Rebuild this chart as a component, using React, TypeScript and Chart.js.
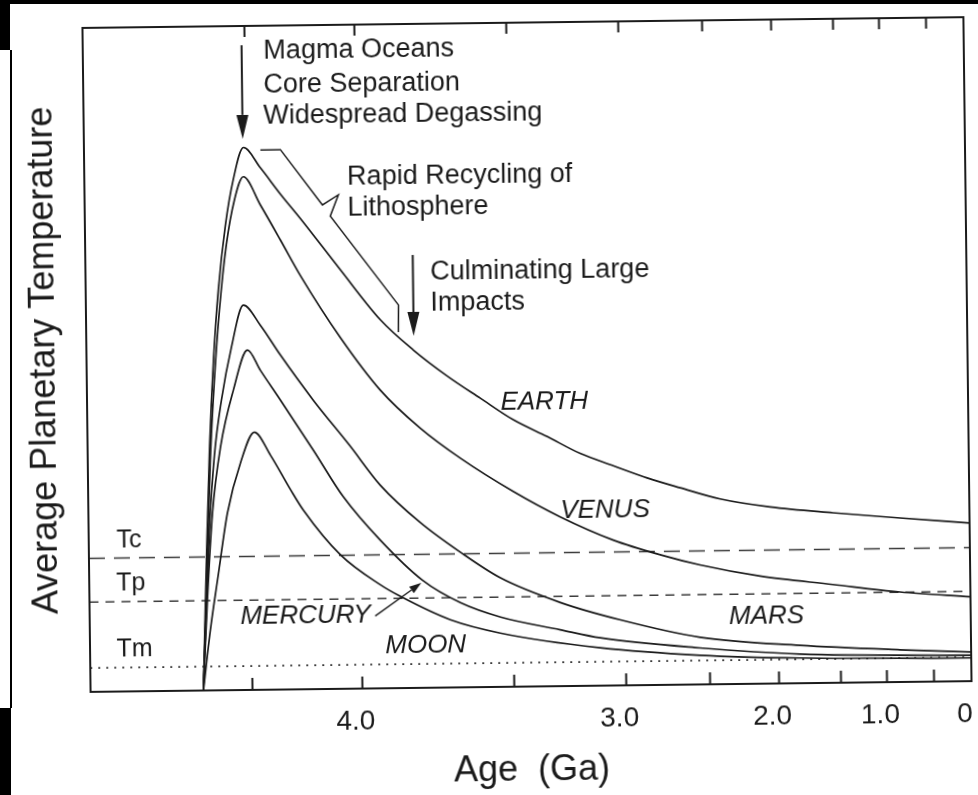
import React, { useEffect, useRef } from "react";
import { Chart, registerables } from "chart.js";

Chart.register(...registerables);

// ---- Age axis (Ga), schematic non-linear scale ----
const AGE_TICKS = [4.5, 4.0, 3.5, 3.0, 2.5, 2.0, 1.5, 1.0, 0.5, 0];
const TICK_LABELS = ["", "4.0", "", "3.0", "", "2.0", "", "1.0", "", "0"];
// anchor ages and their relative position (0-100) along the axis
const WARP_AGE = [5.236, 4.5, 4.0, 3.5, 3.0, 2.5, 2.0, 1.5, 1.0, 0.5, 0];
const WARP_POS = [0, 18.38, 30.86, 48.1, 60.81, 70.33, 78.16, 85.19, 90.41, 95.75, 100];

// ---- Curves: age (Ga) and relative average temperature ----
const EARTH_AGE = [4.723, 4.702, 4.682, 4.659, 4.633, 4.597, 4.559, 4.511, 4.435, 4.345, 4.256, 4.077, 3.926, 3.819, 3.708, 3.6, 3.49, 3.339, 3.193, 3.046, 2.86, 2.664, 2.411, 2.049, 1.548, 0.84, 0];
const EARTH_TEMP = [0, 19.6, 36.2, 49.7, 60.3, 70.1, 76.9, 81.7, 78.6, 74.6, 70.9, 63.1, 55.5, 50.9, 46.9, 43.5, 40.2, 37.6, 35.0, 33.1, 31.2, 29.65, 27.9, 26.6, 25.6, 24.7, 23.8];

const VENUS_AGE = [4.723, 4.698, 4.679, 4.656, 4.629, 4.594, 4.555, 4.513, 4.437, 4.348, 4.259, 4.081, 3.929, 3.799, 3.668, 3.494, 3.286, 3.05, 2.788, 2.551, 2.128, 1.555, 0.85, 0];
const VENUS_TEMP = [0, 19.6, 34.7, 46.7, 57.3, 67.1, 73.8, 77.3, 73.0, 67.7, 62.3, 52.9, 44.9, 39.1, 34.5, 29.4, 25.5, 21.9, 19.6, 18.0, 16.2, 14.8, 13.55, 12.7];

const MARS_AGE = [4.723, 4.687, 4.66, 4.625, 4.577, 4.52, 4.444, 4.355, 4.207, 4.046, 3.933, 3.803, 3.672, 3.541, 3.29, 3.026, 2.556, 1.827, 0.857, 0];
const MARS_TEMP = [0, 24.1, 35.4, 43.7, 51.6, 57.95, 54.9, 50.4, 43.5, 36.7, 30.6, 24.9, 20.35, 16.4, 12.6, 9.9, 7.1, 5.7, 4.85, 4.4];

const MERCURY_AGE = [4.723, 4.7, 4.672, 4.632, 4.57, 4.504, 4.446, 4.357, 4.21, 4.076, 3.935, 3.798, 3.674, 3.542, 3.292, 3.113, 2.557, 1.828, 0];
const MERCURY_TEMP = [0, 13.6, 26.7, 36.6, 45.2, 51.2, 48.1, 43.6, 36.0, 28.9, 22.3, 16.2, 12.75, 10.5, 8.5, 7.2, 5.5, 4.4, 3.9];

const MOON_AGE = [4.723, 4.688, 4.649, 4.604, 4.542, 4.477, 4.405, 4.316, 4.259, 4.093, 3.937, 3.871, 3.708, 3.544, 3.114, 2.557, 1.828, 0];
const MOON_TEMP = [0, 9.1, 17.4, 26.7, 34.2, 38.8, 35.3, 30.1, 27.0, 20.2, 15.6, 13.8, 10.2, 8.1, 5.7, 4.4, 3.8, 3.5];

// ---- Reference temperature levels ----
const REF_LABELS = ["Tc", "Tp", "Tm"];
const REF_TEMP = [20.1, 13.5, 3.6];
const REF_LABEL_AGE = [5.11, 5.113, 5.116];
const REF_LABEL_TEMP = [22.7, 16.3, 6.3];

// ---- Planet labels ----
const PLANET_LABELS = ["EARTH", "VENUS", "MARS", "MERCURY", "MOON"];
const PLANET_LABEL_AGE = [3.534, 3.285, 2.357, 4.551, 3.923];
const PLANET_LABEL_TEMP = [42.8, 26.4, 10.1, 11.0, 6.4];

// ---- Event notes ----
const NOTE_LINES = ["Magma Oceans", "Core Separation", "Widespread Degassing", "Rapid Recycling of", "Lithosphere", "Culminating Large", "Impacts"];
const NOTE_AGE = [4.415, 4.417, 4.419, 4.041, 4.042, 3.76, 3.761];
const NOTE_TEMP = [96.1, 91.1, 86.4, 77.1, 72.4, 62.6, 57.9];

// arrows: [ageFrom, tempFrom, ageTo, tempTo]
const ARROWS = [
  [4.514, 97.1, 4.514, 83.0],
  [3.817, 65.2, 3.817, 53.0],
];
const MERCURY_POINTER = [3.955, 10.9, 3.802, 15.8];
// bracket along Earth's decline ("Rapid Recycling of Lithosphere")
const BRACKET_AGE = [4.434, 4.343, 4.155, 4.082, 4.12, 3.866, 3.867];
const BRACKET_TEMP = [81.3, 81.3, 72.9, 74.4, 71.2, 57.7, 53.6];

function warp(age: number): number {
  const n = WARP_AGE.length;
  if (age >= WARP_AGE[0]) {
    const s = (WARP_POS[1] - WARP_POS[0]) / (WARP_AGE[0] - WARP_AGE[1]);
    return WARP_POS[0] - (age - WARP_AGE[0]) * s;
  }
  for (let i = 0; i < n - 1; i++) {
    const a0 = WARP_AGE[i];
    const a1 = WARP_AGE[i + 1];
    if (age <= a0 && age >= a1) {
      return WARP_POS[i] + ((a0 - age) / (a0 - a1)) * (WARP_POS[i + 1] - WARP_POS[i]);
    }
  }
  return WARP_POS[n - 1];
}

const pts = (ages: number[], temps: number[]) => ages.map((a, i) => ({ x: warp(a), y: temps[i] }));

const FONT = '"Liberation Sans", Arial, Helvetica, sans-serif';
const INK = "#1b1b1b";

function arrow(ctx: CanvasRenderingContext2D, x1: number, y1: number, x2: number, y2: number, len: number, half: number) {
  const ang = Math.atan2(y2 - y1, x2 - x1);
  const bx = x2 - len * Math.cos(ang);
  const by = y2 - len * Math.sin(ang);
  ctx.beginPath();
  ctx.moveTo(x1, y1);
  ctx.lineTo(bx, by);
  ctx.stroke();
  ctx.beginPath();
  ctx.moveTo(x2, y2);
  ctx.lineTo(bx + half * Math.sin(ang), by - half * Math.cos(ang));
  ctx.lineTo(bx - half * Math.sin(ang), by + half * Math.cos(ang));
  ctx.closePath();
  ctx.fill();
}

const decorPlugin = {
  id: "decor",
  afterDatasetsDraw(chart: any) {
    const { ctx, chartArea: ca, scales } = chart;
    const xs = scales.x;
    const ys = scales.y;
    const X = (age: number) => xs.getPixelForValue(warp(age));
    const Y = (t: number) => ys.getPixelForValue(t);
    ctx.save();
    ctx.strokeStyle = INK;
    ctx.fillStyle = INK;
    // frame
    ctx.lineWidth = 2;
    ctx.strokeRect(ca.left, ca.top, ca.right - ca.left, ca.bottom - ca.top);
    // inward tick marks, bottom and top
    xs.ticks.forEach((t: any) => {
      const px = xs.getPixelForValue(t.value);
      if (px >= ca.right - 2) return;
      ctx.beginPath();
      ctx.moveTo(px, ca.bottom);
      ctx.lineTo(px, ca.bottom - 12);
      ctx.moveTo(px, ca.top);
      ctx.lineTo(px, ca.top + 11);
      ctx.stroke();
    });
    // arrows
    ctx.lineWidth = 2;
    ARROWS.forEach((a) => arrow(ctx, X(a[0]), Y(a[1]), X(a[2]), Y(a[3]), 24, 6));
    ctx.lineWidth = 1.4;
    const mp = MERCURY_POINTER;
    arrow(ctx, X(mp[0]), Y(mp[1]), X(mp[2]), Y(mp[3]), 12, 4);
    // bracket
    ctx.lineWidth = 1.5;
    ctx.beginPath();
    BRACKET_AGE.forEach((a, i) => {
      const px = X(a);
      const py = Y(BRACKET_TEMP[i]);
      if (i === 0) ctx.moveTo(px, py);
      else ctx.lineTo(px, py);
    });
    ctx.stroke();
    // notes
    ctx.textBaseline = "middle";
    ctx.textAlign = "left";
    ctx.font = `27px ${FONT}`;
    NOTE_LINES.forEach((s, i) => ctx.fillText(s, X(NOTE_AGE[i]), Y(NOTE_TEMP[i])));
    // planet labels
    ctx.font = `italic 26px ${FONT}`;
    PLANET_LABELS.forEach((s, i) => ctx.fillText(s, X(PLANET_LABEL_AGE[i]), Y(PLANET_LABEL_TEMP[i])));
    // reference level labels
    ctx.font = `25px ${FONT}`;
    REF_LABELS.forEach((s, i) => ctx.fillText(s, X(REF_LABEL_AGE[i]), Y(REF_LABEL_TEMP[i])));
    ctx.restore();
  },
};

const curve = (label: string, ages: number[], temps: number[]) => ({
  label,
  data: pts(ages, temps),
  borderColor: INK,
  borderWidth: 1.7,
  pointRadius: 0,
  fill: false,
  cubicInterpolationMode: "monotone" as const,
});

const REF_DASH = [
  [16, 9],
  [9, 7],
  [2, 6],
];

export default function App() {
  const ref = useRef<HTMLCanvasElement | null>(null);

  useEffect(() => {
    document.body.style.margin = "0";
    const canvas = ref.current;
    if (!canvas) return;
    const refSets = REF_LABELS.map((l, i) => ({
      label: l,
      data: [
        { x: warp(WARP_AGE[0]), y: REF_TEMP[i] },
        { x: warp(0), y: REF_TEMP[i] },
      ],
      borderColor: "#3a3a3a",
      borderWidth: i === 2 ? 1.6 : 1.5,
      borderDash: REF_DASH[i],
      pointRadius: 0,
      fill: false,
      tension: 0,
    }));
    const chart = new Chart(canvas, {
      type: "line",
      data: {
        datasets: [
          curve("Earth", EARTH_AGE, EARTH_TEMP),
          curve("Venus", VENUS_AGE, VENUS_TEMP),
          curve("Mars", MARS_AGE, MARS_TEMP),
          curve("Mercury", MERCURY_AGE, MERCURY_TEMP),
          curve("Moon", MOON_AGE, MOON_TEMP),
          ...refSets,
        ] as any,
      },
      options: {
        responsive: false,
        animation: false,
        devicePixelRatio: 1,
        layout: { padding: { top: 23, right: 10, left: 0, bottom: 0 } },
        plugins: { legend: { display: false }, tooltip: { enabled: false } },
        scales: {
          x: {
            type: "linear",
            min: 0,
            max: 100,
            grid: { display: false, drawTicks: false },
            border: { display: false },
            afterBuildTicks: (s: any) => {
              s.ticks = AGE_TICKS.map((a) => ({ value: warp(a) }));
            },
            afterFit: (s: any) => {
              s.height = 108;
              s.paddingLeft = 0;
              s.paddingRight = 0;
            },
            ticks: {
              autoSkip: false,
              maxRotation: 0,
              minRotation: 0,
              padding: 16,
              labelOffset: -7,
              color: INK,
              font: { family: FONT, size: 28 },
              callback: (_v: any, i: number) => TICK_LABELS[i],
            },
            title: {
              display: true,
              text: "Age  (Ga)",
              color: INK,
              font: { family: FONT, size: 36 },
              padding: { top: 0, bottom: 2 },
            },
          },
          y: {
            min: 0,
            max: 100,
            grid: { display: false },
            border: { display: false },
            ticks: { display: false },
            afterFit: (s: any) => {
              s.width = 87;
            },
            title: {
              display: true,
              text: "Average Planetary Temperature",
              color: INK,
              font: { family: FONT, size: 36 },
              padding: { top: 23, bottom: 0 },
            },
          },
        },
      } as any,
      plugins: [decorPlugin],
    });
    return () => chart.destroy();
  }, []);

  const black = (s: React.CSSProperties) => (
    <div style={{ position: "absolute", background: "#000", ...s }} />
  );

  return (
    <div style={{ position: "relative", width: 978, height: 795, background: "#fff", overflow: "hidden" }}>
      <canvas
        ref={ref}
        width={978}
        height={795}
        style={{ position: "absolute", left: 0, top: 0, transform: "rotate(-0.7deg)", transformOrigin: "489px 397px" }}
      />
      {black({ left: 0, top: 0, width: 978, height: 4 })}
      {black({ left: 0, top: 0, width: 10, height: 50 })}
      {black({ left: 10, top: 50, width: 1.5, height: 658 })}
      {black({ left: 0, top: 708, width: 11, height: 87 })}
    </div>
  );
}
